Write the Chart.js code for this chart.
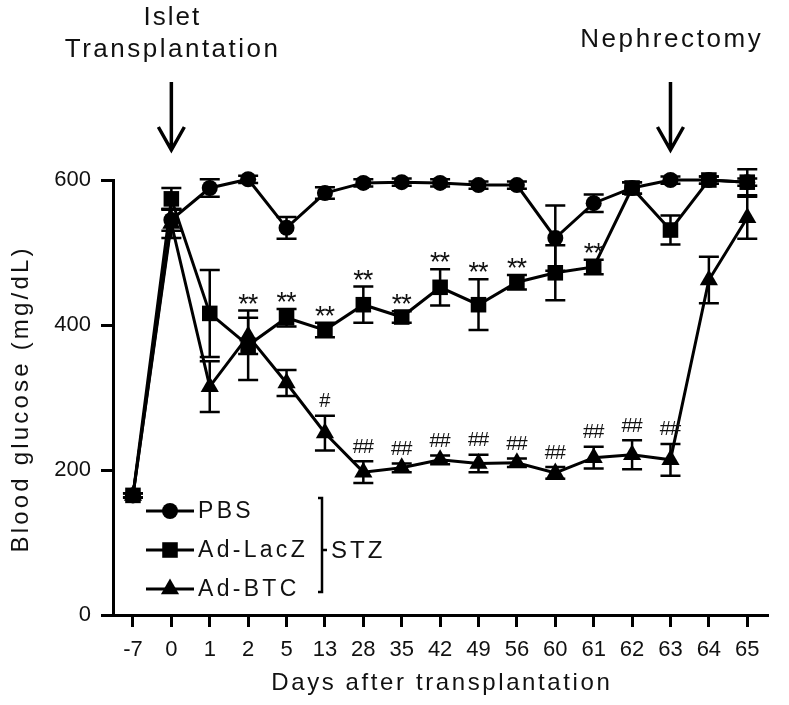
<!DOCTYPE html>
<html>
<head>
<meta charset="utf-8">
<script src="https://cdn.jsdelivr.net/npm/chart.js@4.4.1/dist/chart.umd.min.js"></script>
<style>
  html, body { margin: 0; padding: 0; background: #fff; }
  #wrap { width: 789px; height: 705px; }
</style>
</head>
<body>
<div id="wrap"><canvas id="glucose_chart" width="789" height="705"></canvas></div>
<script>
// days after transplantation (categories)
const days = ["-7", "0", "1", "2", "5", "13", "28", "35", "42", "49", "56", "60", "61", "62", "63", "64", "65"];

// blood glucose, mg/dL (mean and error)
const pbs = [165, 545, 589, 601, 534, 582, 596, 597, 596, 593, 593, 520, 568, 589, 600, 600, 597];
const pbsErr = [3, 15, 12, 5, 15, 8, 5, 5, 5, 5, 5, 45, 12, 8, 5, 5, 5];
const lacz = [165, 574, 416, 372, 410, 393, 428, 411, 452, 428, 459, 472, 480, 589, 531, 600, 597];
const laczErr = [3, 15, 60, 48, 12, 10, 25, 8, 25, 35, 10, 38, 10, 8, 20, 5, 18];
const btc = [165, 540, 315, 385, 320, 251, 197, 203, 214, 209, 210, 196, 217, 221, 214, 462, 548];
const btcErr = [3, 20, 35, 25, 18, 24, 15, 6, 6, 12, 6, 8, 15, 20, 22, 32, 29];

// significance marks
const laczMarks = ["", "", "", "**", "**", "**", "**", "**", "**", "**", "**", "", "**", "", "", "", ""];
const btcMarks = ["", "", "", "", "", "#", "##", "##", "##", "##", "##", "##", "##", "##", "##", "", ""];

const yTicks = [0, 200, 400, 600];
const events = [{ day: "0", lines: ["Islet", "Transplantation"] }, { day: "63", lines: ["Nephrectomy"] }];

const FONT = "'Liberation Sans', Arial, sans-serif";

function toPoints(arr) {
  return arr.map((v, i) => ({ x: i, y: v }));
}

function text(ctx, str, x, y, size, spacing, align, baseline) {
  ctx.save();
  ctx.font = size + "px " + FONT;
  ctx.letterSpacing = spacing + "px";
  ctx.fillStyle = "#111";
  ctx.textAlign = align || "left";
  ctx.textBaseline = baseline || "alphabetic";
  if (align === "center" && spacing) x += spacing / 2;
  ctx.fillText(str, x, y);
  ctx.restore();
}

const errorBars = {
  id: "errorBars",
  beforeDatasetsDraw(chart) {
    const ctx = chart.ctx;
    const xs = chart.scales.x, ys = chart.scales.y;
    ctx.save();
    ctx.strokeStyle = "#000";
    ctx.lineWidth = 2.5;
    chart.data.datasets.forEach((ds) => {
      ds.data.forEach((p, i) => {
        const e = ds.errors[i];
        const x = xs.getPixelForValue(p.x);
        const top = ys.getPixelForValue(p.y + e);
        const bot = ys.getPixelForValue(p.y - e);
        ctx.beginPath();
        ctx.moveTo(x, top); ctx.lineTo(x, bot);
        ctx.moveTo(x - 10, top); ctx.lineTo(x + 10, top);
        ctx.moveTo(x - 10, bot); ctx.lineTo(x + 10, bot);
        ctx.stroke();
      });
    });
    ctx.restore();
  }
};

const marks = {
  id: "marks",
  afterDatasetsDraw(chart) {
    const xs = chart.scales.x, ys = chart.scales.y;
    const ctx = chart.ctx;
    [[lacz, laczErr, laczMarks], [btc, btcErr, btcMarks]].forEach(([vals, errs, labels]) => {
      labels.forEach((m, i) => {
        if (!m) return;
        const x = xs.getPixelForValue(i);
        const mid = ys.getPixelForValue(vals[i] + errs[i]) - 14;
        if (m[0] === "*") {
          text(ctx, m, x, mid + 16, 27, -1, "center");
        } else {
          text(ctx, m, x, mid, 20, -1, "center", "middle");
        }
      });
    });
  }
};

const decorations = {
  id: "decorations",
  afterDraw(chart) {
    const ctx = chart.ctx;
    const xs = chart.scales.x;
    const area = chart.chartArea;

    // axis titles
    ctx.save();
    ctx.translate(21, (area.top + area.bottom) / 2 + 3);
    ctx.rotate(-Math.PI / 2);
    text(ctx, "Blood glucose (mg/dL)", 0, 0, 24, 3.2, "center", "middle");
    ctx.restore();
    text(ctx, "Days after transplantation", (area.left + area.right) / 2, 690, 24, 2.6, "center");

    // event arrows
    events.forEach((ev) => {
      const x = xs.getPixelForValue(days.indexOf(ev.day));
      if (ev.lines.length === 2) {
        text(ctx, ev.lines[0], x, 25, 26, 2, "center");
        text(ctx, ev.lines[1], x, 57, 26, 2.5, "center");
      } else {
        text(ctx, ev.lines[0], x, 47, 26, 2.6, "center");
      }
      ctx.save();
      ctx.strokeStyle = "#000";
      ctx.lineWidth = 3.5;
      ctx.beginPath();
      ctx.moveTo(x, 82); ctx.lineTo(x, 150);
      ctx.moveTo(x - 13, 127); ctx.lineTo(x, 150); ctx.lineTo(x + 13, 127);
      ctx.stroke();
      ctx.restore();
    });

    // legend
    const rows = [511, 550, 589];
    ctx.save();
    ctx.strokeStyle = "#000";
    ctx.fillStyle = "#000";
    chart.data.datasets.forEach((ds, k) => {
      const y = rows[k];
      ctx.lineWidth = 3;
      ctx.beginPath();
      ctx.moveTo(146, y); ctx.lineTo(194, y);
      ctx.stroke();
      Chart.helpers.drawPoint(ctx, { pointStyle: ds.pointStyle, radius: ds.pointRadius, rotation: 0, borderWidth: 0 }, 170, y);
      text(ctx, ds.label, 198, y + 1, 23, 3.3, "left", "middle");
    });
    ctx.lineWidth = 2.5;
    ctx.beginPath();
    ctx.moveTo(318, 498); ctx.lineTo(322, 498); ctx.lineTo(322, 592); ctx.lineTo(318, 592);
    ctx.moveTo(322, 550); ctx.lineTo(327, 550);
    ctx.stroke();
    ctx.restore();
    text(ctx, "STZ", 331, 551, 24, 3, "left", "middle");
  }
};

const c1 = document.getElementById("glucose_chart").getContext("2d");
const base = {
  borderColor: "#000",
  backgroundColor: "#000",
  pointBackgroundColor: "#000",
  pointBorderWidth: 0,
  borderWidth: 3,
  tension: 0,
  clip: false,
};
new Chart(c1, {
  type: "line",
  data: {
    datasets: [
      Object.assign({ label: "PBS", data: toPoints(pbs), errors: pbsErr, pointStyle: "circle", pointRadius: 8 }, base),
      Object.assign({ label: "Ad-LacZ", data: toPoints(lacz), errors: laczErr, pointStyle: "rect", pointRadius: 11 }, base),
      Object.assign({ label: "Ad-BTC", data: toPoints(btc), errors: btcErr, pointStyle: "triangle", pointRadius: 10.5 }, base),
    ],
  },
  options: {
    responsive: false,
    animation: false,
    layout: { padding: { top: 180, right: 21, left: 0, bottom: 0 } },
    plugins: {
      legend: { display: false },
      tooltip: { enabled: false },
    },
    scales: {
      x: {
        type: "linear",
        min: -0.52,
        max: 16.54,
        afterFit(scale) { scale.height = 90; },
        afterBuildTicks(scale) { scale.ticks = days.map((d, i) => ({ value: i })); },
        border: { display: true, color: "#000", width: 3 },
        grid: { drawOnChartArea: false, drawTicks: true, tickLength: 12, tickWidth: 3, tickColor: "#000" },
        ticks: {
          color: "#111",
          font: { family: FONT, size: 22 },
          padding: 10,
          maxRotation: 0,
          autoSkip: false,
          callback: (v) => days[v],
        },
      },
      y: {
        min: 0,
        max: 600,
        afterFit(scale) { scale.width = 113; },
        afterBuildTicks(scale) { scale.ticks = yTicks.map((v) => ({ value: v })); },
        border: { display: true, color: "#000", width: 3 },
        grid: { drawOnChartArea: false, drawTicks: true, tickLength: 12, tickWidth: 3, tickColor: "#000" },
        ticks: {
          color: "#111",
          font: { family: FONT, size: 22 },
          padding: 10,
        },
      },
    },
  },
  plugins: [errorBars, marks, decorations],
});
</script>
</body>
</html>
